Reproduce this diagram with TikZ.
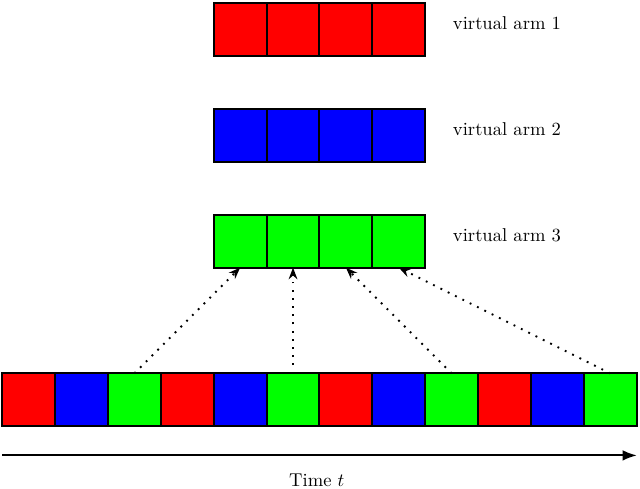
\documentclass[tikz,border=0pt]{standalone}
\usetikzlibrary{arrows.meta}
\tikzset{cell/.style={
    draw, line width=1.1pt, fill=#1,
    minimum size=1cm,
    inner sep=0pt, outer sep=0pt
  },
  cell/.default={white},
  arm label/.style={anchor=west},
  pull/.style={line width=1pt, dash pattern=on 1pt off 3.4pt, -{Stealth[length=2.2mm]}},
  time axis/.style={line width=1pt, -{Latex[length=2.7mm]}}
}

\begin{document}
\begin{tikzpicture}
  \useasboundingbox (-0.04,-1.17) rectangle (12.06,8.06);
  % virtual arms
  \foreach \col [count=\i] in {red,blue,green} {
    \foreach \j in {1,...,4}
      \node[cell=\col] (v\i-\j) at (3.5+\j, 9.5-2*\i) {};
    \node[arm label] (l\i) at (8.4, 9.62-2*\i) {virtual arm \i};
  }
  % time slots
  \foreach \col [count=\j] in {red,blue,green,red,blue,green,red,blue,green,red,blue,green}
    \node[cell=\col] (t\j) at (\j-0.5, 0.5) {};
  \foreach \s/\j in {3/1,6/2,9/3,12/4}
    \draw[pull] (t\s.north) -- (v3-\j.south);
  % time axis
  \coordinate (t0) at (0,-0.55);
  \coordinate (tend) at (12,-0.55);
  \draw[time axis] (t0) -- (tend);
  \node (time) at (5.95,-1.02) {Time $t$};
\end{tikzpicture}
\end{document}
